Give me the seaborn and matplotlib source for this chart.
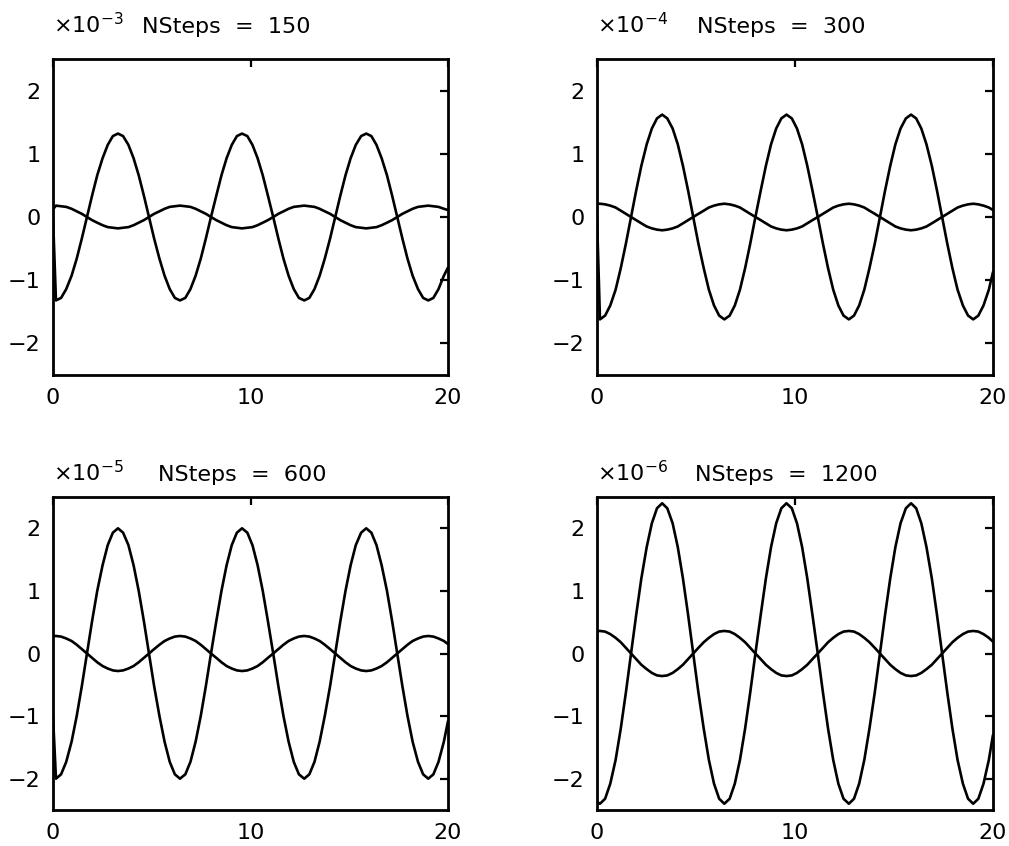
import matplotlib
matplotlib.use("Agg")
import matplotlib.pyplot as plt
import seaborn as sns
import pandas as pd

sns.set_theme(style="white")
plt.rcParams["font.family"] = ["DejaVu Sans"]
plt.rcParams["text.color"] = "black"

# sample times (same for every run)
t = [0.0,
     0.15, 0.41, 0.67, 0.94, 1.20, 1.46, 1.72, 1.98, 2.24, 2.51, 2.77, 3.03,
     3.29, 3.55, 3.82, 4.08, 4.34, 4.60, 4.86, 5.12, 5.39, 5.65, 5.91, 6.17,
     6.43, 6.70, 6.96, 7.22, 7.48, 7.74, 8.00, 8.27, 8.53, 8.79, 9.05, 9.31,
     9.57, 9.84, 10.10, 10.36, 10.62, 10.88, 11.15, 11.41, 11.67, 11.93, 12.19, 12.45,
     12.72, 12.98, 13.24, 13.50, 13.76, 14.03, 14.29, 14.55, 14.81, 15.07, 15.33, 15.60,
     15.86, 16.12, 16.38, 16.64, 16.91, 17.17, 17.43, 17.69, 17.95, 18.21, 18.48, 18.74,
     19.00, 19.26, 19.52, 19.79,
     20.0]

# NSteps = 150 (x 1e-3)
big_150 = [0.0,
           -1.32, -1.28, -1.14, -0.93, -0.66, -0.34, 0.00, 0.34, 0.66, 0.93, 1.14, 1.28,
           1.32, 1.28, 1.14, 0.93, 0.66, 0.34, 0.00, -0.34, -0.66, -0.93, -1.14, -1.28,
           -1.32, -1.28, -1.14, -0.93, -0.66, -0.34, 0.00, 0.34, 0.66, 0.93, 1.14, 1.28,
           1.32, 1.28, 1.14, 0.93, 0.66, 0.34, 0.00, -0.34, -0.66, -0.93, -1.14, -1.28,
           -1.32, -1.28, -1.14, -0.93, -0.66, -0.34, 0.00, 0.34, 0.66, 0.93, 1.14, 1.28,
           1.32, 1.28, 1.14, 0.93, 0.66, 0.34, 0.00, -0.34, -0.66, -0.93, -1.14, -1.28,
           -1.32, -1.28, -1.14, -0.93,
           -0.80]
small_150 = [0.12,
             0.18, 0.17, 0.16, 0.13, 0.09, 0.05, 0.00, -0.05, -0.09, -0.13, -0.16, -0.17,
             -0.18, -0.17, -0.16, -0.13, -0.09, -0.05, 0.00, 0.05, 0.09, 0.13, 0.16, 0.17,
             0.18, 0.17, 0.16, 0.13, 0.09, 0.05, 0.00, -0.05, -0.09, -0.13, -0.16, -0.17,
             -0.18, -0.17, -0.16, -0.13, -0.09, -0.05, 0.00, 0.05, 0.09, 0.13, 0.16, 0.17,
             0.18, 0.17, 0.16, 0.13, 0.09, 0.05, 0.00, -0.05, -0.09, -0.13, -0.16, -0.17,
             -0.18, -0.17, -0.16, -0.13, -0.09, -0.05, 0.00, 0.05, 0.09, 0.13, 0.16, 0.17,
             0.18, 0.17, 0.16, 0.13,
             0.11]

# NSteps = 300 (x 1e-4)
big_300 = [0.0,
           -1.62, -1.56, -1.40, -1.15, -0.81, -0.42, 0.00, 0.42, 0.81, 1.15, 1.40, 1.56,
           1.62, 1.56, 1.40, 1.15, 0.81, 0.42, 0.00, -0.42, -0.81, -1.15, -1.40, -1.56,
           -1.62, -1.56, -1.40, -1.15, -0.81, -0.42, 0.00, 0.42, 0.81, 1.15, 1.40, 1.56,
           1.62, 1.56, 1.40, 1.15, 0.81, 0.42, 0.00, -0.42, -0.81, -1.15, -1.40, -1.56,
           -1.62, -1.56, -1.40, -1.15, -0.81, -0.42, 0.00, 0.42, 0.81, 1.15, 1.40, 1.56,
           1.62, 1.56, 1.40, 1.15, 0.81, 0.42, 0.00, -0.42, -0.81, -1.15, -1.40, -1.56,
           -1.62, -1.56, -1.40, -1.15,
           -0.87]
small_300 = [0.21,
             0.21, 0.20, 0.18, 0.15, 0.10, 0.05, 0.00, -0.05, -0.10, -0.15, -0.18, -0.20,
             -0.21, -0.20, -0.18, -0.15, -0.10, -0.05, 0.00, 0.05, 0.10, 0.15, 0.18, 0.20,
             0.21, 0.20, 0.18, 0.15, 0.10, 0.05, 0.00, -0.05, -0.10, -0.15, -0.18, -0.20,
             -0.21, -0.20, -0.18, -0.15, -0.10, -0.05, 0.00, 0.05, 0.10, 0.15, 0.18, 0.20,
             0.21, 0.20, 0.18, 0.15, 0.10, 0.05, 0.00, -0.05, -0.10, -0.15, -0.18, -0.20,
             -0.21, -0.20, -0.18, -0.15, -0.10, -0.05, 0.00, 0.05, 0.10, 0.15, 0.18, 0.20,
             0.21, 0.20, 0.18, 0.15,
             0.11]

# NSteps = 600 (x 1e-5)
big_600 = [-1.0,
           -2.00, -1.93, -1.73, -1.41, -1.00, -0.52, 0.00, 0.52, 1.00, 1.41, 1.73, 1.93,
           2.00, 1.93, 1.73, 1.41, 1.00, 0.52, 0.00, -0.52, -1.00, -1.41, -1.73, -1.93,
           -2.00, -1.93, -1.73, -1.41, -1.00, -0.52, 0.00, 0.52, 1.00, 1.41, 1.73, 1.93,
           2.00, 1.93, 1.73, 1.41, 1.00, 0.52, 0.00, -0.52, -1.00, -1.41, -1.73, -1.93,
           -2.00, -1.93, -1.73, -1.41, -1.00, -0.52, 0.00, 0.52, 1.00, 1.41, 1.73, 1.93,
           2.00, 1.93, 1.73, 1.41, 1.00, 0.52, 0.00, -0.52, -1.00, -1.41, -1.73, -1.93,
           -2.00, -1.93, -1.73, -1.41,
           -1.08]
small_600 = [0.28,
             0.28, 0.27, 0.24, 0.20, 0.14, 0.07, 0.00, -0.07, -0.14, -0.20, -0.24, -0.27,
             -0.28, -0.27, -0.24, -0.20, -0.14, -0.07, 0.00, 0.07, 0.14, 0.20, 0.24, 0.27,
             0.28, 0.27, 0.24, 0.20, 0.14, 0.07, 0.00, -0.07, -0.14, -0.20, -0.24, -0.27,
             -0.28, -0.27, -0.24, -0.20, -0.14, -0.07, 0.00, 0.07, 0.14, 0.20, 0.24, 0.27,
             0.28, 0.27, 0.24, 0.20, 0.14, 0.07, 0.00, -0.07, -0.14, -0.20, -0.24, -0.27,
             -0.28, -0.27, -0.24, -0.20, -0.14, -0.07, 0.00, 0.07, 0.14, 0.20, 0.24, 0.27,
             0.28, 0.27, 0.24, 0.20,
             0.15]

# NSteps = 1200 (x 1e-6)
big_1200 = [-2.37,
            -2.40, -2.32, -2.08, -1.70, -1.20, -0.62, 0.00, 0.62, 1.20, 1.70, 2.08, 2.32,
            2.40, 2.32, 2.08, 1.70, 1.20, 0.62, 0.00, -0.62, -1.20, -1.70, -2.08, -2.32,
            -2.40, -2.32, -2.08, -1.70, -1.20, -0.62, 0.00, 0.62, 1.20, 1.70, 2.08, 2.32,
            2.40, 2.32, 2.08, 1.70, 1.20, 0.62, 0.00, -0.62, -1.20, -1.70, -2.08, -2.32,
            -2.40, -2.32, -2.08, -1.70, -1.20, -0.62, 0.00, 0.62, 1.20, 1.70, 2.08, 2.32,
            2.40, 2.32, 2.08, 1.70, 1.20, 0.62, 0.00, -0.62, -1.20, -1.70, -2.08, -2.32,
            -2.40, -2.32, -2.08, -1.70,
            -1.30]
small_1200 = [0.36,
              0.36, 0.35, 0.31, 0.25, 0.18, 0.09, 0.00, -0.09, -0.18, -0.25, -0.31, -0.35,
              -0.36, -0.35, -0.31, -0.25, -0.18, -0.09, 0.00, 0.09, 0.18, 0.25, 0.31, 0.35,
              0.36, 0.35, 0.31, 0.25, 0.18, 0.09, 0.00, -0.09, -0.18, -0.25, -0.31, -0.35,
              -0.36, -0.35, -0.31, -0.25, -0.18, -0.09, 0.00, 0.09, 0.18, 0.25, 0.31, 0.35,
              0.36, 0.35, 0.31, 0.25, 0.18, 0.09, 0.00, -0.09, -0.18, -0.25, -0.31, -0.35,
              -0.36, -0.35, -0.31, -0.25, -0.18, -0.09, 0.00, 0.09, 0.18, 0.25, 0.31, 0.35,
              0.36, 0.35, 0.31, 0.25,
              0.19]

nsteps = ["150", "300", "600", "1200"]
exponents = ["-3", "-4", "-5", "-6"]
big_runs = [big_150, big_300, big_600, big_1200]
small_runs = [small_150, small_300, small_600, small_1200]

x_ticks = [0, 10, 20]
y_ticks = [-2, -1, 0, 1, 2]

W, H = 1009, 846
fig = plt.figure(figsize=(W / 100, H / 100), dpi=100)

# axes boxes in pixels: left, top, right, bottom
boxes = [(53, 59, 448, 375), (597, 59, 993, 375),
         (53, 497, 448, 810), (597, 497, 993, 810)]
title_x = [89, 100, 105, 98]      # title start, px from left spine
head_gap = [26, 26, 16, 16]       # header baseline above top spine, px

for i, (l, tp, r, b) in enumerate(boxes):
    ax = fig.add_axes([l / W, 1 - b / H, (r - l) / W, (b - tp) / H])
    df = pd.DataFrame({"t": t, "big": big_runs[i], "small": small_runs[i]})
    sns.lineplot(data=df, x="t", y="big", ax=ax, color="black", lw=1.9,
                 estimator=None, sort=False)
    sns.lineplot(data=df, x="t", y="small", ax=ax, color="black", lw=1.9,
                 estimator=None, sort=False)
    ax.set_xlim(0, 20)
    ax.set_ylim(-2.5, 2.5)
    ax.set_xticks(x_ticks)
    ax.set_yticks(y_ticks)
    ax.set_xlabel("")
    ax.set_ylabel("")
    ax.tick_params(direction="in", length=6, width=1.6, top=True, right=True,
                   labelsize=16, pad=9, colors="black")
    for s in ax.spines.values():
        s.set_linewidth(2)
        s.set_color("black")
    hb = 1 + head_gap[i] / (b - tp)
    ax.text(0, hb, r"$\mathregular{\times 10^{" + exponents[i] + "}}$",
            transform=ax.transAxes, fontsize=16, va="baseline", ha="left",
            color="black")
    ax.text(title_x[i] / (r - l), hb, "NSteps  =  " + nsteps[i],
            transform=ax.transAxes, fontsize=16, va="baseline", ha="left",
            color="black")

fig.savefig("out.png", dpi=100, facecolor="white")
